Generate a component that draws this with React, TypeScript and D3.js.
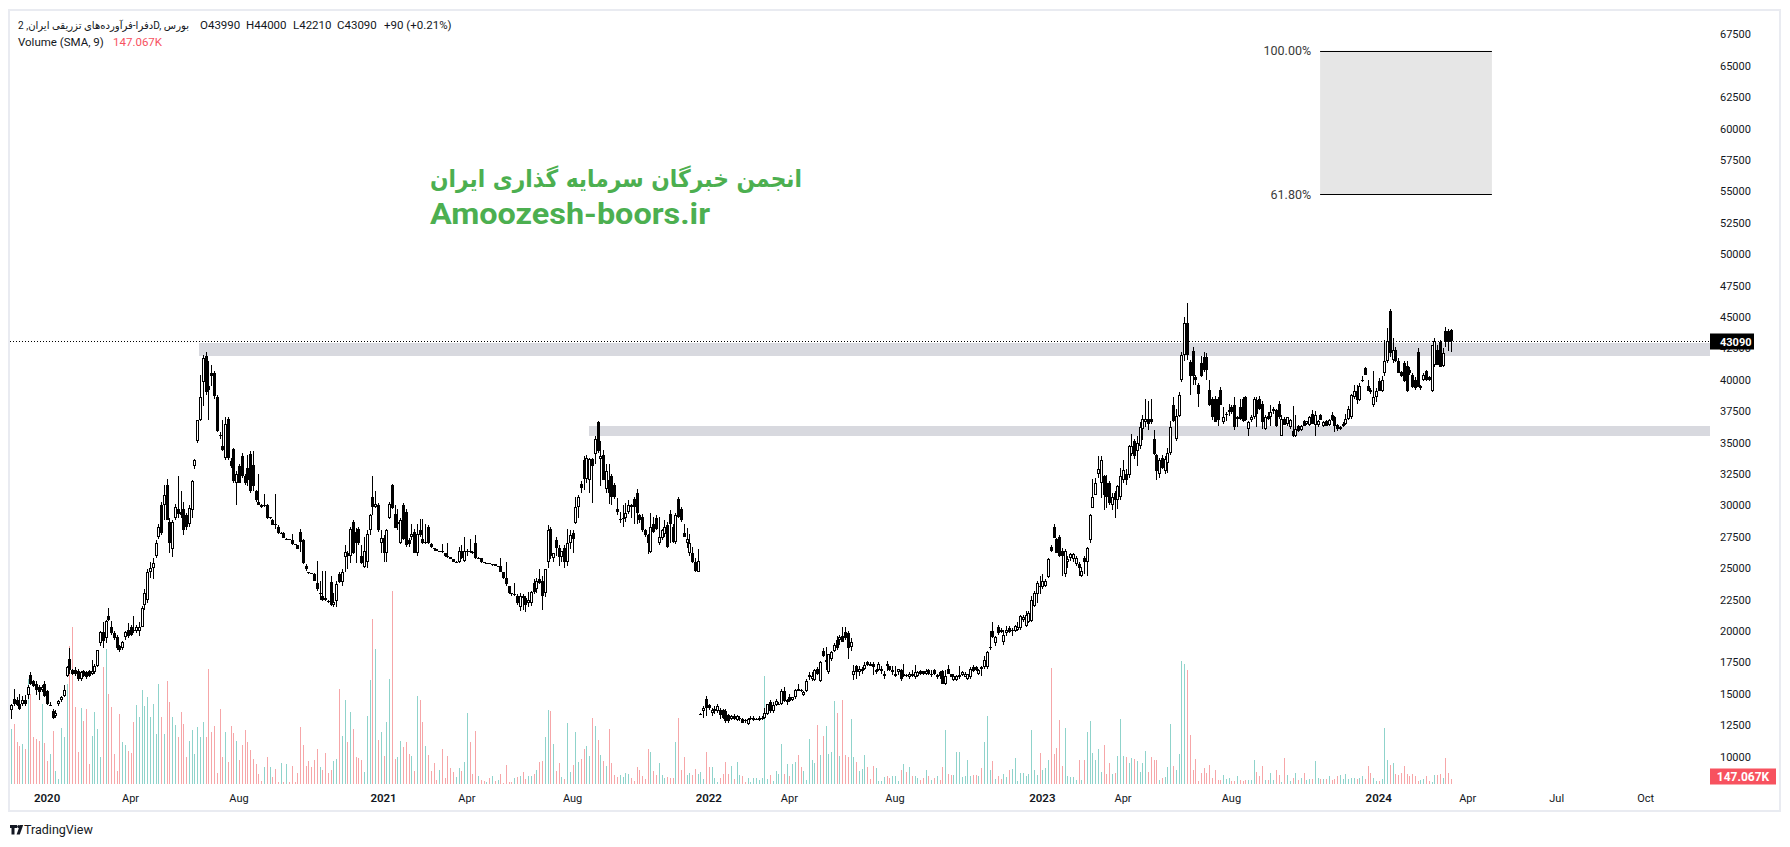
import React from 'react';
import * as d3 from 'd3';

// ---------- DATA (prices in hundreds of rials: [open, high, low, close]) ----------
const OHLC_A: number[][] = [
[137,142,130,141],[146,154,140,142],[145,147,140,141],[142,150,137,138],[142,148,140,145],[145,149,140,142],[149,157,146,155],[165,167,157,158],[160,161,155,156],[158,160,149,153],
[155,157,145,151],[153,157,151,155],[158,160,147,148],[152,153,141,142],[141,143,140,141],[136,138,130,131],[132,137,131,135],[142,145,140,144],[145,148,143,147],[148,157,147,153],
[164,172,163,171],[178,186,166,169],[169,170,165,166],[169,171,164,166],[168,170,160,162],[162,168,160,167],[168,169,163,164],[167,168,162,163],[168,169,163,164],[166,177,165,168],
[167,174,166,172],[172,185,171,185],[190,200,188,199],[199,207,186,192],[194,209,190,208],[212,218,208,209],[203,208,197,198],[198,200,193,194],[195,197,185,186],[188,189,183,185],
[186,192,185,191],[195,200,193,199],[201,206,194,196],[203,205,196,197],[201,212,198,200],[200,205,198,203],[200,207,196,203],[203,220,203,218],[221,233,217,230],[225,249,222,247],
[247,255,242,250],[250,258,241,254],[260,272,258,270],[275,285,273,283],[300,303,276,278],[300,316,288,308],[316,321,288,288],[287,290,262,270],[265,288,259,287],[290,301,288,299],
[297,323,290,293],[295,311,290,292],[297,303,276,280],[292,294,280,283],[285,300,283,298],[296,320,290,319],[331,337,329,336],[351,368,350,368],[368,404,367,386],[398,420,379,417],
[419,422,388,390],[395,415,368,392],[405,412,395,403],[405,407,385,387],[386,388,358,359],[356,358,353,355],[347,368,343,344],[338,370,336,365],[369,370,336,338],[335,338,330,331],
[345,346,318,319],[318,327,300,325],[331,333,318,318],[339,342,322,323],[323,325,316,318],[330,340,315,320],[341,343,310,311],[332,343,311,315],[311,312,303,304],[303,325,300,300],
[300,301,298,299],[300,309,299,300],[300,301,289,290],[290,291,289,291],[288,289,284,284],[285,309,281,284],[283,284,277,278],[278,279,277,278],[278,279,274,274],[273,274,272,273],
[273,273,272,272],[272,277,268,269],[269,269,268,268],[268,268,265,265],[279,281,263,271]
];
const OHLC_B: number[][] = [
[272,273,253,254],[252,253,248,249],[247,247,245,246],[246,246,245,245],[245,246,240,240],[238,256,232,233],[229,240,225,230],[228,248,224,225],[226,248,224,225],[224,225,222,223],
[239,244,220,221],[221,230,219,223],[224,240,219,237],[245,247,238,239],[239,249,236,247],[259,268,247,263],[262,264,249,260],[260,283,254,281],[287,288,261,262],[279,282,254,270],
[281,283,268,270],[260,268,253,254],[251,275,250,264],[255,280,250,277],[280,293,276,292],[307,323,292,299],[299,311,298,301],[300,302,279,280],[270,280,262,274],[274,276,255,262],
[262,281,255,280],[290,303,289,301],[316,317,297,298],[293,300,282,282],[285,297,280,287],[270,290,269,288],[300,302,272,273],[295,297,267,268],[272,274,267,269],[275,285,272,277],
[279,281,262,262],[262,285,260,277],[280,289,275,276],[273,289,269,270],[270,285,269,271],[283,284,269,270],[269,270,266,267],[266,266,264,265],[265,265,264,264],[264,264,263,264],
[264,269,262,263],[262,262,259,260],[260,270,258,259],[259,259,257,257],[257,257,255,255],[255,256,254,255],[255,267,254,264],[264,268,257,258],[256,275,255,264],[263,265,260,264],
[264,273,262,263],[263,264,261,262],[270,276,257,258],[258,259,257,258],[258,258,254,255],[255,255,254,254],[254,254,253,254],[254,254,253,253],[253,253,252,253],[253,253,252,252],
[252,252,251,252],[252,258,247,247],[247,247,241,242],[242,255,236,237],[236,236,229,230],[230,230,228,229],[229,238,228,229],[228,229,221,222],[219,230,216,228],[228,229,217,226],
[226,228,215,221],[222,231,219,225],[222,232,220,231],[238,241,229,231],[233,242,230,240],[241,249,237,238],[240,244,217,228],[230,249,227,249],[255,284,250,280],[281,283,257,260],
[258,262,255,262],[272,275,260,266],[266,268,252,259],[259,264,255,264],[266,268,250,255],[255,281,252,270],[270,280,265,276],[278,280,262,273],[286,307,285,299],[299,308,290,307],
[317,319,310,314],[336,339,312,321],[321,340,318,338]
];
const OHLC_C: number[][] = [
[320,338,310,337],[337,338,302,331],[341,355,333,353],[366,367,342,343],[337,351,315,339],[340,344,320,320],[313,333,310,327],[320,333,301,310],[323,325,300,307],[316,318,305,307],
[297,306,292,295],[288,295,286,289],[289,300,283,290],[290,302,287,294],[295,304,293,300],[300,301,290,299],[305,307,285,299],[310,313,285,294],[292,293,286,288],[291,293,279,280],
[280,281,275,276],[276,277,261,270],[263,294,262,283],[285,291,278,279],[290,292,280,281],[270,291,268,275],[274,281,272,280],[277,288,275,283],[284,287,266,267],[293,296,270,285],
[283,285,270,271],[271,294,269,292],[305,307,290,291],[297,299,287,288],[278,285,275,275],[270,282,266,273],[262,277,260,270],[262,267,254,255],[255,258,247,248],[247,265,247,256]
];
const OHLC_D: number[][] = [
[134,135,134,134],[136,140,131,139],[146,148,132,139],[141,142,137,139],[135,139,132,137],[136,140,134,138],[136,142,135,140],[137,139,130,133],[137,138,130,131],[136,138,127,128],
[133,134,127,128],[130,133,129,132],[132,134,129,130],[129,133,128,132],[130,132,128,131],[130,131,127,127],[129,130,127,128],[126,131,125,130],[130,132,129,131],[129,132,128,131],
[130,131,129,130],[129,132,128,131],[131,132,129,131],[131,139,130,135],[134,142,133,142],[143,145,135,136],[136,143,135,141],[141,146,140,144],[142,143,141,142],[142,154,141,152],
[152,155,143,144],[143,146,141,145],[147,150,143,144],[145,147,144,147],[147,154,146,153],[154,158,152,152],[153,154,151,152],[149,152,148,151],[152,162,151,160],[163,167,161,165],
[162,167,160,164],[161,170,160,169],[170,171,165,166],[160,176,159,175],[184,186,179,180],[175,187,169,177],[167,182,166,182],[178,184,176,183],[184,190,183,189],[193,196,185,186],
[193,197,189,195],[196,203,191,191],[199,203,193,194],[198,200,178,186],[187,194,184,191],[165,173,161,168],[172,173,162,167],[167,172,164,170],[168,171,166,170],[170,175,169,173],
[175,176,172,173],[174,175,172,172],[174,175,165,171],[167,170,166,169],[169,175,168,174]
];
const OHLC_E: number[][] = [
[168,172,166,170],[164,168,162,166],[174,176,168,172],[172,172,168,169],[167,172,165,169],[164,172,163,166],[167,170,165,170],[169,170,160,162],[164,174,163,166],[165,166,163,164],
[163,167,162,166],[166,169,163,164],[163,173,162,167],[164,168,163,167],[168,169,165,166],[168,168,165,166],[166,170,165,168],[169,170,165,166],[165,169,163,166],[169,170,165,166],
[163,166,162,165],[167,168,162,164],[168,169,158,158],[158,169,157,164],[170,173,166,166],[166,166,163,163],[161,166,160,164],[161,165,160,164],[163,172,162,165],[165,168,164,167],
[163,167,163,166],[162,166,161,166],[163,171,162,170],[171,173,167,168],[171,172,168,169],[166,170,165,169],[171,172,164,170],[171,180,170,177],[171,184,170,183],[186,200,185,187],
[200,207,194,195],[190,196,188,195],[203,205,197,198],[201,202,198,199],[191,201,189,197],[198,204,196,201],[202,204,198,199],[200,202,196,201],[200,205,199,204],[201,207,200,203],
[202,213,201,212],[209,213,207,211],[204,216,203,213],[207,216,206,214],[208,228,207,225],[220,232,219,230],[229,240,222,238],[236,244,229,235],[235,245,233,240],[236,241,235,240],
[243,258,242,257],[267,268,263,264],[283,285,274,274],[273,274,262,262],[275,276,259,260],[264,266,244,260],[245,265,243,264],[255,260,250,257],[258,262,256,261],[257,262,255,261],
[253,260,252,258],[253,255,244,250],[244,251,243,248],[258,260,245,255],[255,267,244,266],[272,293,270,292],[298,321,298,307],[308,322,308,318],[325,339,322,329],[318,339,306,336],
[323,324,296,308],[318,324,298,307],[318,319,300,302],[300,310,296,307],[310,311,290,304],[304,316,297,315],[307,330,304,323],[320,336,318,328],[325,329,316,320],[324,348,322,347],
[341,357,339,347],[351,353,337,339],[343,355,331,350],[347,366,345,362],[361,372,352,369],[366,385,362,369],[369,383,360,365],[369,385,365,366],[353,360,340,341],[340,341,320,327],
[325,338,322,336],[338,340,329,330],[327,339,325,337],[334,346,326,342],[342,367,340,362]
];
const OHLC_F: number[][] = [
[380,386,366,367],[353,377,351,371],[371,390,370,388],[400,422,398,420],[420,450,415,445],[445,461,416,420],[414,416,388,403],[423,426,396,403],[402,404,396,400],[396,397,378,389],
[413,419,402,403],[418,422,406,408],[418,421,400,408],[392,400,379,380],[385,386,368,370],[385,387,366,366],[385,386,363,368],[392,394,380,380],[366,378,365,370],[372,374,367,373],
[374,381,371,376],[378,380,373,374],[380,386,360,362],[369,371,362,370],[378,385,368,369],[385,386,366,367],[386,387,367,368],[361,367,355,366],[368,372,366,370],[370,386,369,385],
[384,386,362,373],[385,387,376,377],[381,383,361,366],[361,372,360,370],[371,374,368,369],[370,380,363,374],[375,378,373,377],[376,377,362,363],[381,383,369,370],[355,372,355,369],
[369,370,364,364],[365,370,363,370],[362,369,361,368],[359,379,354,355],[355,372,354,361],[363,364,358,359],[360,364,359,363],[367,368,363,363],[365,367,364,367],[364,371,363,370],
[373,376,365,365],[364,375,355,372],[364,368,362,367],[372,373,368,368],[363,367,362,366],[367,368,363,363],[364,369,363,368],[372,374,367,368],[370,371,358,363],[364,365,359,361],
[361,363,360,362],[363,366,362,365],[365,373,364,369],[369,379,368,377],[370,389,369,388],[386,396,385,391],[391,396,381,384],[384,397,383,395],[400,403,398,400],[409,410,404,404],
[395,400,391,391],[392,393,389,390],[380,407,378,386],[386,393,382,391],[399,401,391,391],[391,403,390,400],[405,432,403,415],[415,441,413,431],[455,456,418,421],[416,433,413,424],
[424,426,414,415],[415,417,405,405],[406,407,402,403],[413,415,398,399],[411,415,390,391],[408,410,404,405],[404,405,393,394],[400,402,392,393],[422,425,394,394],[393,396,392,395],
[400,405,399,404],[407,408,399,400],[402,403,399,400],[391,428,390,428],[412,433,410,431],[424,428,412,412],[430,432,410,410],[411,425,410,421],[439,442,426,430],[439,440,423,430],
[439.9,440,422.1,430.9]
];

// Volume in thousands of shares
const VOL_A = [1650,1800,1250,1150,1200,1050,3150,2700,1420,1350,1300,2400,1220,700,900,1600,400,150,1680,1400,3000,4150,4700,2300,950,2280,1900,2250,600,1450,2150,1650,800,3500,4050,2700,2320,900,400,2100,1250,1180,1000,920,1850,2380,2020,2820,2350,2620,2000,2400,1500,3000,2020,1500,3100,2450,2020,1780,1420,2150,1800,820,1280,1620,900,1700,1400,1850,1400,3450,1550,1750,320,2250,820,1550,650,1750,1520,1280,720,1180,1620,1250,1020,750,600,300,80,500,820,520,200,450,50,620,50,600,50,550,50,320,1720];
const VOL_B = [1170,540,690,520,720,1050,520,420,920,320,420,690,750,2850,1440,2520,1260,2170,1650,820,790,720,360,2040,3120,4950,4050,1320,1560,840,1870,3150,5790,750,820,1290,1110,1260,900,840,390,2640,2520,1860,1140,870,390,630,120,420,1050,180,840,480,370,210,480,390,660,2140,1260,300,1590,240,120,80,70,190,240,90,120,300,20,570,50,50,170,220,240,360,150,240,240,300,420,660,690,1410,2220,2190,1200,390,630,210,150,1830,360,570,1560,660,750,1050,1140];
const VOL_C = [840,1970,1740,1320,870,690,540,1650,630,260,220,260,200,340,300,190,90,510,420,240,160,1050,960,390,270,630,270,170,200,180,190,1260,1970,420,810,270,330,270,450,300,360,150,960,510,510,180,70,180,300,660,300,540,150,660,270,240,70,180,70,180,180,120,180,3240,150,260,90,390,300,1200,300,600,240,600,660,870,510,390,120,1350,720,630,1770,870,1440,1740,900,960,2490,2130,840,2520,870,810,1950,810,660,390,450,870,510,150,540,480,90];
const VOL_D = [90,200,240,180,240,240,90,420,600,360,510,240,240,180,120,180,420,240,120,180,240,120,510,1620,300,270,270,960,960,210,240,720,240,270,270,240,480,1260,2040,420,690,150,240,150,300,210,420,450,780,90,330,330,240,300,1620,420,270,930,420,480,720,3480,900,1080,1920,540,1680,240,210,210,120,720,120,720,1560,1890,930,720,1050,360,1170,300,630,300,330,840,1950,840,810,630,780,750,690,360,630,990,360,810,720,720,120,180,210,510,1800];
const VOL_E = [530,410,890,3680,3590,3410,1460,410,760,90,330,490,330,560,190,430,130,130,260,160,190,90,90,230,130,90,130,130,130,710,360,230,530,130,130,330,130,430,260,60,790,260,90,190,330,130,190,330,130,160,160,690,190,160,160,160,230,130,160,230,260,160,290,160,190,190,160,190,230,160,530,330,190,90,90,160,1690,730,560,630,290,260,330,530,290,230,290,230,90,130,160,230,90,60,260,260,290,190,790,330,147.067];

const OHLC = [...OHLC_A, ...OHLC_B, ...OHLC_C, ...OHLC_D, ...OHLC_E, ...OHLC_F];
const VOLUME = [...VOL_A, ...VOL_B, ...VOL_C, ...VOL_D, ...VOL_E];

const PRICE_TICKS = d3.range(10000, 67501, 2500);
const TIME_TICKS = [
  { label: '2020', bar: 13, year: true }, { label: 'Apr', bar: 43 }, { label: 'Aug', bar: 82 },
  { label: '2021', bar: 134, year: true }, { label: 'Apr', bar: 164 }, { label: 'Aug', bar: 202 },
  { label: '2022', bar: 251, year: true }, { label: 'Apr', bar: 280 }, { label: 'Aug', bar: 318 },
  { label: '2023', bar: 371, year: true }, { label: 'Apr', bar: 400 }, { label: 'Aug', bar: 439 },
  { label: '2024', bar: 492, year: true }, { label: 'Apr', bar: 524 }, { label: 'Jul', bar: 556 }, { label: 'Oct', bar: 588 },
];
const ZONES = [
  { fromBar: 67.5, low: 41850, high: 42960 },
  { fromBar: 208, low: 35520, high: 36310 },
];
const FIB_BARS = [470.9, 532.7];
const FIB_LEVELS = [
  { label: '100.00%', value: 66190 },
  { label: '61.80%', value: 54780 },
];
const SYMBOL = 'دفرا-فرآورده‌های تزریقی ایران, 2D, بورس';
const LEGEND = [
  { text: 'O43990', x: 200 }, { text: 'H44000', x: 246 }, { text: 'L42210', x: 293 },
  { text: 'C43090', x: 337 }, { text: '+90 (+0.21%)', x: 384 },
];
const VOLUME_LABEL = '147.067K';
const WATERMARK_FA = 'انجمن خبرگان سرمایه گذاری ایران';
const WATERMARK_EN = 'Amoozesh-boors.ir';

// ---------- LAYOUT ----------
const W = 1790, H = 847;
const PLOT_L = 10, PLOT_R = 1710;
const FONT = 'Roboto, "DejaVu Sans", sans-serif';
const TXT = '#131722';

export default function App() {
  const n = OHLC.length;
  const x = d3.scaleLinear().domain([0, n - 1]).range([11, 11 + 2.78 * (n - 1)]);
  const y = d3.scaleLinear().domain([10000, 67500]).range([756.5, 34.3]);
  const yVol = d3.scaleLinear().domain([0, 6000]).range([784, 584]);

  const candles = OHLC.map((d, i) => ({ i, o: d[0] * 100, h: d[1] * 100, l: d[2] * 100, c: d[3] * 100, v: VOLUME[i] ?? 0 }));
  const last = candles[n - 1];
  const lastY = Math.round(y(last.c)) + 0.5;
  const volLabelY = Math.min(yVol(last.v), 776.5);

  return (
    <svg width={W} height={H} style={{ position: 'absolute', left: 0, top: 0, background: '#fff' }} xmlns="http://www.w3.org/2000/svg">
      <rect x={0} y={0} width={W} height={H} fill="#fff" />
      <rect x={9} y={10} width={1771} height={801} fill="none" stroke="#e9ebf1" strokeWidth={2} />

      {/* zones */}
      <g shapeRendering="crispEdges">
        {ZONES.map((z, k) => (
          <rect key={k} x={x(z.fromBar)} y={y(z.high)} width={PLOT_R - x(z.fromBar)} height={y(z.low) - y(z.high)} fill="#d8d9df" />
        ))}
      </g>

      {/* fib box */}
      <g>
        <rect x={x(FIB_BARS[0])} y={y(FIB_LEVELS[0].value)} width={x(FIB_BARS[1]) - x(FIB_BARS[0])}
          height={y(FIB_LEVELS[1].value) - y(FIB_LEVELS[0].value)} fill="#e6e6e6" />
        {FIB_LEVELS.map((f, k) => (
          <g key={k}>
            <line x1={x(FIB_BARS[0])} x2={x(FIB_BARS[1])} y1={Math.round(y(f.value)) + 0.5} y2={Math.round(y(f.value)) + 0.5} stroke="#000" strokeWidth={1} />
            <text x={x(FIB_BARS[0]) - 9} y={y(f.value) + 4.5} textAnchor="end" fontFamily={FONT} fontSize={12.5} fill="#3a3a3a">{f.label}</text>
          </g>
        ))}
      </g>

      {/* watermark */}
      <text x={430} y={187} fontFamily='"DejaVu Sans", sans-serif' fontWeight="bold" fontSize={24} fill="#4caf50"
        textLength={372} lengthAdjust="spacingAndGlyphs">{WATERMARK_FA}</text>
      <text x={430} y={224} fontFamily={FONT} fontWeight="bold" fontSize={29} fill="#4caf50"
        textLength={280} lengthAdjust="spacingAndGlyphs">{WATERMARK_EN}</text>

      {/* volume */}
      <g shapeRendering="crispEdges">
        {candles.map(d => {
          const cx = Math.round(x(d.i));
          const top = yVol(d.v);
          return <rect key={d.i} x={cx} y={top} width={1} height={Math.max(0, 784 - top)} fill={d.c >= d.o ? '#8fd3cb' : '#f6a6a8'} />;
        })}
      </g>

      {/* last price dotted line */}
      <line x1={PLOT_L} x2={PLOT_R} y1={lastY} y2={lastY} stroke="#000" strokeWidth={1} strokeDasharray="1 2" />

      {/* candles */}
      <g shapeRendering="crispEdges">
        {candles.map(d => {
          const cx = Math.round(x(d.i));
          const yh = Math.round(y(d.h)), yl = Math.round(y(d.l));
          const yt = Math.round(y(Math.max(d.o, d.c))), yb = Math.round(y(Math.min(d.o, d.c)));
          const up = d.c >= d.o;
          const bh = yb - yt;
          return (
            <g key={d.i}>
              <rect x={cx} y={yh} width={1} height={Math.max(1, yl - yh)} fill="#000" />
              {up && bh >= 3 ? (
                <rect x={cx - 0.5} y={yt + 0.5} width={2} height={bh - 1} fill="#fff" stroke="#000" strokeWidth={1} />
              ) : (
                <rect x={cx - 1} y={yt} width={3} height={Math.max(1, bh)} fill="#000" />
              )}
            </g>
          );
        })}
      </g>

      {/* price axis */}
      <g fontFamily={FONT} fontSize={11} fill={TXT}>
        {PRICE_TICKS.map(t => (
          <text key={t} x={1720} y={y(t) + 4}>{t}</text>
        ))}
      </g>
      <rect x={1710} y={lastY - 8} width={44} height={16} fill="#000" />
      <text x={1720} y={lastY + 4} fontFamily={FONT} fontSize={11} fontWeight="bold" fill="#fff">{Math.round(last.c)}</text>
      <rect x={1710} y={volLabelY - 8} width={66} height={16} fill="#f7525f" />
      <text x={1743} y={volLabelY + 4} textAnchor="middle" fontFamily={FONT} fontSize={12} fontWeight="bold" fill="#fff">{VOLUME_LABEL}</text>

      {/* time axis */}
      <g fontFamily={FONT} fontSize={11} fill={TXT} textAnchor="middle">
        {TIME_TICKS.map((t, k) => (
          <text key={k} x={x(t.bar)} y={802} fontWeight={t.year ? 600 : 400} fontSize={t.year ? 11.5 : 11}>{t.label}</text>
        ))}
      </g>

      {/* legend */}
      <g fontFamily={FONT} fontSize={11.5} fill={TXT}>
        <text x={18} y={29} fontSize={10.5} textLength={171} lengthAdjust="spacingAndGlyphs">{SYMBOL}</text>
        {LEGEND.map((l, k) => <text key={k} x={l.x} y={29}>{l.text}</text>)}
        <text x={18} y={46}>Volume (SMA, 9)</text>
        <text x={113} y={46} fill="#f7525f">{VOLUME_LABEL}</text>
      </g>

      {/* TradingView logo */}
      <g fill="#131722">
        <path d="M10 825 h7 v3 h-2.5 v6.5 h-3 v-6.5 h-1.5 z" />
        <circle cx={18.8} cy={826.6} r={1.6} />
        <path d="M20 825 h3.2 l-3.4 9.5 h-3.2 z" />
      </g>
      <text x={24} y={834} fontFamily={FONT} fontSize={12.5} fill={TXT}>TradingView</text>
    </svg>
  );
}
